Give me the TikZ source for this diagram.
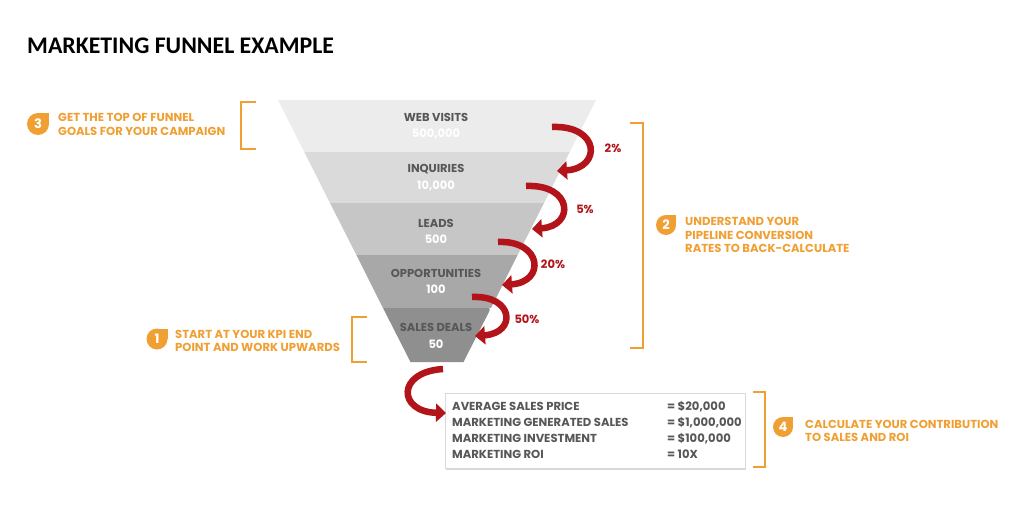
\documentclass[tikz,border=0pt]{standalone}
\usepackage{fontspec}
\setmainfont{Carlito}
\newfontfamily\labelfont{Poppins}
\usetikzlibrary{positioning,arrows.meta,shadows}
\definecolor{stepOrange}{HTML}{F0A033}
\definecolor{curlRed}{HTML}{B3141A}
\definecolor{bandText}{HTML}{575757}
\definecolor{bandA}{HTML}{ECECEC}
\definecolor{bandB}{HTML}{DADADA}
\definecolor{bandC}{HTML}{C6C6C6}
\definecolor{bandD}{HTML}{A8A8A8}
\definecolor{bandE}{HTML}{8F8F8F}

\begin{document}
\begin{tikzpicture}[
  x=1pt,y=-1pt,
  bandname/.style={font=\labelfont\bfseries\fontsize{11.5}{12}\selectfont,text=bandText,inner sep=0pt},
  bandnum/.style={font=\labelfont\bfseries\fontsize{11.5}{12}\selectfont,text=white,inner sep=0pt},
  curl/.style={-{Triangle[length=10pt,width=18pt]},line width=6.5pt,curlRed},
  rate/.style={font=\labelfont\bfseries\fontsize{11.5}{12}\selectfont,text=curlRed,inner sep=0pt},
  bracket/.style={stepOrange,line width=2.4pt},
  badgenum/.style={font=\labelfont\bfseries\fontsize{13}{13}\selectfont,text=white,inner sep=0pt},
  tip/.style={font=\labelfont\bfseries\fontsize{11.6}{13.5}\selectfont,text=stepOrange,align=left,anchor=west,inner sep=0pt},
  restext/.style={font=\labelfont\bfseries\fontsize{11.6}{16}\selectfont,text=bandText,align=left,anchor=west,inner sep=0pt},
  resbox/.style={draw=black!15,fill=white,minimum width=300pt,minimum height=75pt,drop shadow={shadow xshift=1pt,shadow yshift=-2pt,opacity=0.3}}
]
\useasboundingbox (0,0) rectangle (1023,519);
\fill[white] (0,0) rectangle (1023,519);

% title
\node[anchor=west,inner sep=0pt,font=\bfseries\fontsize{23.8}{26}\selectfont] (title) at (27,46) {MARKETING FUNNEL EXAMPLE};

% funnel bands
\fill[bandA] (278,100) -- (596,100) -- (569.7,152) -- (304.3,152) -- cycle;
\fill[bandB] (304.3,152) -- (569.7,152) -- (544,203) -- (330,203) -- cycle;
\fill[bandC] (330,203) -- (544,203) -- (517.6,255) -- (356.4,255) -- cycle;
\fill[bandD] (356.4,255) -- (517.6,255) -- (491,308) -- (383,308) -- cycle;
\fill[bandE,rounded corners=3pt] (383,308) -- (491,308) [sharp corners] -- (463.5,362) -- (410.5,362) -- cycle;

\node[bandname] (webvisits) at (436,117) {WEB VISITS};
\node[bandnum] (webnum) at (436,134) {500,000};
\node[bandname] (inquiries) at (436,169) {INQUIRIES};
\node[bandnum] (inqnum) at (436,186) {10,000};
\node[bandname] (leads) at (436,223) {LEADS};
\node[bandnum] (leadnum) at (436,239) {500};
\node[bandname] (opps) at (436,273) {OPPORTUNITIES};
\node[bandnum] (oppnum) at (436,289) {100};
\node[bandname] (sales) at (436,327) {SALES DEALS};
\node[bandnum] (salesnum) at (436,344) {50};

% conversion curls
\coordinate (c1s) at (552,127); \coordinate (c1e) at (557,171);
\coordinate (c2s) at (526,186); \coordinate (c2e) at (532,229);
\coordinate (c3s) at (498,242); \coordinate (c3e) at (502,285);
\coordinate (c4s) at (472,297); \coordinate (c4e) at (475,336);
\draw[curl] (c1s) .. controls (600,125) and (602,168) .. (c1e);
\draw[curl] (c2s) .. controls (573,184) and (575,226) .. (c2e);
\draw[curl] (c3s) .. controls (542,240) and (546,282) .. (c3e);
\draw[curl] (c4s) .. controls (514,295) and (517,333) .. (c4e);
\node[rate] (r1) at (613,148) {2\%};
\node[rate] (r2) at (585,209) {5\%};
\node[rate] (r3) at (553,264) {20\%};
\node[rate] (r4) at (527,319) {50\%};

% results
\node[resbox] (results) at (595,430.5) {};
\node[restext] (reslabels) at (452,430) {AVERAGE SALES PRICE\\MARKETING GENERATED SALES\\MARKETING INVESTMENT\\MARKETING ROI};
\node[restext] (resvalues) at (667,430) {= \$20,000\\= \$1,000,000\\= \$100,000\\= 10X};
\coordinate (c5s) at (443,369); \coordinate (c5e) at (446,413);
\draw[curl] (c5s) .. controls (396,372) and (398,412) .. (c5e);

% brackets
\draw[bracket] (256,102) -- (241,102) -- (241,149) -- (256,149);
\draw[bracket] (630,123) -- (643,123) -- (643,348) -- (630,348);
\draw[bracket] (367,317) -- (352,317) -- (352,362) -- (367,362);
\draw[bracket] (753,392) -- (765,392) -- (765,467) -- (753,467);

% steps
\fill[stepOrange] (38,124) circle[radius=11pt];
\fill[stepOrange] (38,124) rectangle ++(11,-11);
\node[badgenum] (b3) at (38,124) {3};
\node[tip] (tip3) at (58,124.5) {GET THE TOP OF FUNNEL\\GOALS FOR YOUR CAMPAIGN};
\fill[stepOrange] (666,225) circle[radius=10pt];
\fill[stepOrange] (666,225) rectangle ++(10,-10);
\node[badgenum] (b2) at (666,225) {2};
\node[tip] (tip2) at (685,235) {UNDERSTAND YOUR\\PIPELINE CONVERSION\\RATES TO BACK-CALCULATE};
\fill[stepOrange] (157,339) circle[radius=10.5pt];
\fill[stepOrange] (157,339) rectangle ++(10.5,-10.5);
\node[badgenum] (b1) at (157,339) {1};
\node[tip] (tip1) at (175,341) {START AT YOUR KPI END\\POINT AND WORK UPWARDS};
\fill[stepOrange] (783,427) circle[radius=10pt];
\fill[stepOrange] (783,427) rectangle ++(10,-10);
\node[badgenum] (b4) at (783,427) {4};
\node[tip] (tip4) at (805,431) {CALCULATE YOUR CONTRIBUTION\\TO SALES AND ROI};
\end{tikzpicture}
\end{document}
